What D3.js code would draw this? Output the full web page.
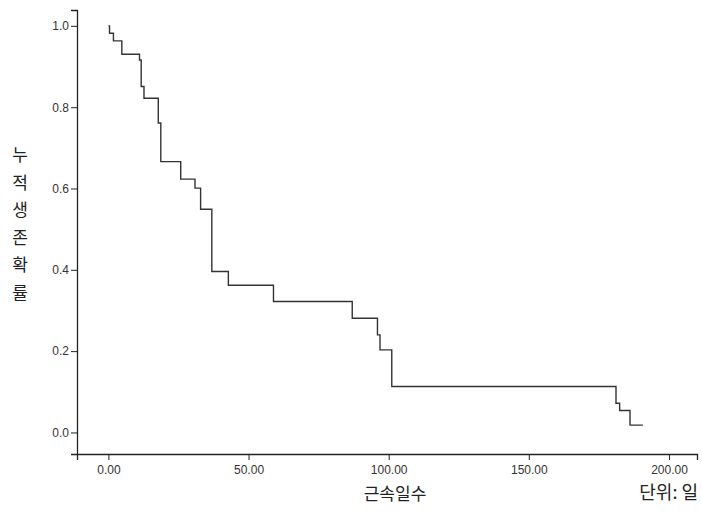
<!DOCTYPE html>
<html>
<head>
<meta charset="utf-8">
<script src="https://cdn.jsdelivr.net/npm/d3@7"></script>
<style>
  body { margin: 0; background: #fff; }
  svg { display: block; }
  .tick text { font-family: Arial, "Liberation Sans", sans-serif; font-size: 12px; fill: #333; }
  .ko { font-family: "Noto Sans CJK KR", sans-serif; fill: #222; }
</style>
</head>
<body>
<div id="chart"></div>
<script>
// Kaplan-Meier style step curve: time (days) and cumulative survival
const times = [0, 0.4, 1.8, 4.8, 11.1, 11.7, 12.7, 17.8, 18.7, 25.8, 30.9, 32.9, 36.9, 42.8, 58.9, 87.0, 96.0, 96.9, 101.1, 181.1, 182.4, 186.1, 190.7];
const survival = [1.0, 0.982, 0.963, 0.930, 0.916, 0.851, 0.822, 0.761, 0.666, 0.623, 0.601, 0.549, 0.396, 0.362, 0.322, 0.281, 0.240, 0.203, 0.113, 0.072, 0.054, 0.018, 0.018];

const xTicks = [0, 50, 100, 150, 200];
const yTicks = [0, 0.2, 0.4, 0.6, 0.8, 1.0];
const xTitle = '근속일수';
const yTitle = '누적생존확률';
const unitNote = '단위: 일';

const W = 702, H = 513;
const plotLeft = 77, plotRight = 697, plotTop = 10, plotBottom = 454;

const svg = d3.select('#chart').append('svg')
  .attr('width', W)
  .attr('height', H);

const x = d3.scaleLinear().domain([-11.2, 210]).range([plotLeft, plotRight]);
const y = d3.scaleLinear().domain([-0.053, 1.039]).range([plotBottom, plotTop]);

// axes
const xAxis = svg.append('g')
  .attr('transform', `translate(0,${plotBottom})`)
  .call(d3.axisBottom(x).tickValues(xTicks).tickFormat(d3.format('.2f'))
    .tickSizeOuter(0).tickSize(6).tickPadding(5));

const yAxis = svg.append('g')
  .attr('transform', `translate(${plotLeft},0)`)
  .call(d3.axisLeft(y).tickValues(yTicks).tickFormat(d3.format('.1f'))
    .tickSizeOuter(0).tickSize(6).tickPadding(2));

[xAxis, yAxis].forEach(g => {
  g.select('.domain').attr('stroke', '#222').attr('stroke-width', 1.3);
  g.selectAll('.tick line').attr('stroke', '#222');
});

// survival curve
const pts = times.map((t, i) => [t, survival[i]]);
const line = d3.line()
  .x(d => x(d[0]))
  .y(d => y(d[1]))
  .curve(d3.curveStepAfter);

svg.append('path')
  .datum(pts)
  .attr('fill', 'none')
  .attr('stroke', '#333')
  .attr('stroke-width', 1.4)
  .attr('d', line);

// titles
svg.append('text')
  .attr('class', 'ko')
  .attr('x', 395)
  .attr('y', 500)
  .attr('text-anchor', 'middle')
  .attr('font-size', 17)
  .text(xTitle);

svg.append('text')
  .attr('class', 'ko')
  .attr('x', 698)
  .attr('y', 499)
  .attr('text-anchor', 'end')
  .attr('font-size', 18)
  .text(unitNote);

const yt = svg.append('text')
  .attr('class', 'ko')
  .attr('font-size', 17)
  .attr('text-anchor', 'middle');
yTitle.split('').forEach((ch, i) => {
  yt.append('tspan')
    .attr('x', 20)
    .attr('y', 161 + i * 27.6)
    .text(ch);
});
</script>
</body>
</html>
